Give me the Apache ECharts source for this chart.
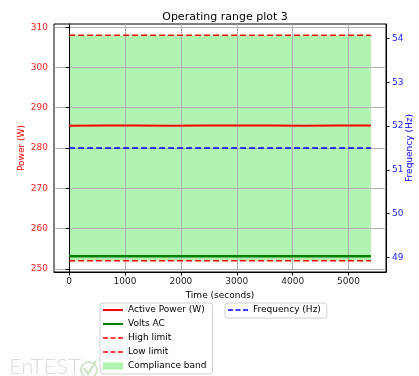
<!DOCTYPE html>
<html>
<head>
<meta charset="utf-8">
<script src="https://cdn.jsdelivr.net/npm/echarts@6/dist/echarts.min.js"></script>
<style>html,body{margin:0;padding:0;background:#fff;}#c{width:419px;height:376px;}</style>
</head>
<body>
<div id="c"></div>
<script>
// ---- data ----
const timeS = [0, 600, 1200, 1800, 2400, 3000, 3600, 4200, 4800, 5400];
const activePowerW = [285.5, 285.6, 285.6, 285.5, 285.6, 285.6, 285.6, 285.5, 285.6, 285.6];
const voltsAC = [253.1, 253.1, 253.1, 253.1, 253.1, 253.1, 253.1, 253.1, 253.1, 253.1];
const frequencyHz = [51.5, 51.5, 51.5, 51.5, 51.5, 51.5, 51.5, 51.5, 51.5, 51.5];
const highLimit = [308, 308];
const lowLimit = [252, 252];
const limitTime = [0, 5400];
const timeTicks = [0, 1000, 2000, 3000, 4000, 5000];
const powerTicks = [250, 260, 270, 280, 290, 300, 310];
const freqTicks = [49, 50, 51, 52, 53, 54];
const legendMain = ['Active Power (W)', 'Volts AC', 'High limit', 'Low limit', 'Compliance band'];
const legendFreq = ['Frequency (Hz)'];

const pairs = (xs, ys) => xs.map((x, i) => [x, ys[i]]);
const FONT = 'DejaVu Sans';
const BAND = 'rgb(177,243,177)';
const SOLID_ICON = 'path://M0,0h20v2h-20z';
const DASH_ICON = 'path://M0,0h5v1.6h-5z M7.5,0h5v1.6h-5z M15,0h5v1.6h-5z';
const PATCH_ICON = 'path://M0,0h20v7h-20z';
const legendIcon = {
  'Active Power (W)': {icon: SOLID_ICON, color: '#f00'},
  'Volts AC': {icon: SOLID_ICON, color: '#008000'},
  'High limit': {icon: DASH_ICON, color: '#f00'},
  'Low limit': {icon: DASH_ICON, color: '#f00'},
  'Compliance band': {icon: PATCH_ICON, color: BAND},
  'Frequency (Hz)': {icon: DASH_ICON, color: '#00f'}
};
const legendItems = names => names.map(n => ({
  name: n, icon: legendIcon[n].icon,
  itemStyle: {color: legendIcon[n].color, borderWidth: 0}
}));
const legendBase = {
  orient: 'vertical', top: 303,
  itemWidth: 20, itemHeight: 10, itemGap: 4, symbolKeepAspect: true,
  padding: [2, 6, 3, 3],
  borderColor: '#d0d0d0', borderWidth: 1, borderRadius: 3,
  backgroundColor: 'rgba(255,255,255,0.85)',
  textStyle: {fontFamily: FONT, fontSize: 9, color: '#000', lineHeight: 10}
};

const chart = echarts.init(document.getElementById('c'), null, {renderer: 'canvas'});
chart.setOption({
  animation: false,
  backgroundColor: '#fff',
  textStyle: {fontFamily: FONT},
  title: {
    text: 'Operating range plot 3', left: 220, top: 7, textAlign: 'center',
    textStyle: {fontFamily: FONT, fontSize: 11, fontWeight: 'normal', color: '#000'}
  },
  grid: {left: 54, right: 33, top: 24, bottom: 104, show: true, borderColor: '#000', borderWidth: 1,
         backgroundColor: 'transparent', containLabel: false, outerBoundsMode: 'none'},
  legend: [
    Object.assign({}, legendBase, {left: 100, data: legendItems(legendMain)}),
    Object.assign({}, legendBase, {left: 225, data: legendItems(legendFreq)})
  ],
  xAxis: {
    type: 'value', min: -270, max: 5670, z: 3,
    name: 'Time (seconds)', nameLocation: 'middle', nameGap: 19, nameMoveOverlap: false,
    nameTextStyle: {fontFamily: FONT, fontSize: 9, color: '#000'},
    axisLine: {show: true, onZero: false, lineStyle: {color: '#000', width: 1}},
    axisTick: {show: true, length: 3.5, customValues: timeTicks, lineStyle: {color: '#000'}},
    axisLabel: {customValues: timeTicks, formatter: v => String(v), fontFamily: FONT, fontSize: 9, color: '#222', margin: 5},
    splitLine: {show: true, lineStyle: {color: '#b0b0b0', width: 1}}
  },
  yAxis: [
    {
      type: 'value', min: 249.2, max: 310.8, z: 3, position: 'left',
      name: 'Power (W)', nameLocation: 'middle', nameGap: 28, nameRotate: 90, nameMoveOverlap: false,
      nameTextStyle: {fontFamily: FONT, fontSize: 9, color: '#f00'},
      axisLine: {show: true, lineStyle: {color: '#000', width: 1}},
      axisTick: {show: true, length: 3.5, customValues: powerTicks, lineStyle: {color: '#000'}},
      axisLabel: {customValues: powerTicks, formatter: v => String(v), fontFamily: FONT, fontSize: 9, color: '#f22', margin: 6},
      splitLine: {show: true, lineStyle: {color: '#b0b0b0', width: 1}}
    },
    {
      type: 'value', min: 48.67, max: 54.33, z: 3, position: 'right',
      name: 'Frequency (Hz)', nameLocation: 'middle', nameGap: 19, nameRotate: 90, nameMoveOverlap: false,
      nameTextStyle: {fontFamily: FONT, fontSize: 9, color: '#00f'},
      axisLine: {show: true, lineStyle: {color: '#000', width: 1}},
      axisTick: {show: true, length: 3.5, customValues: freqTicks, lineStyle: {color: '#000'}},
      axisLabel: {customValues: freqTicks, formatter: v => String(v), fontFamily: FONT, fontSize: 9, color: '#22f', margin: 6},
      splitLine: {show: false}
    }
  ],
  series: [
    {
      name: 'Compliance band', type: 'line', yAxisIndex: 0, z: 1,
      data: pairs(limitTime, highLimit), symbol: 'none',
      lineStyle: {width: 0, opacity: 0},
      areaStyle: {origin: lowLimit[0], color: BAND, opacity: 1},
      itemStyle: {color: BAND}
    },
    {
      name: 'High limit', type: 'line', yAxisIndex: 0, z: 5,
      data: pairs(limitTime, highLimit), symbol: 'none',
      lineStyle: {color: '#f00', width: 1.5, type: [6, 3]}, itemStyle: {color: '#f00'}
    },
    {
      name: 'Low limit', type: 'line', yAxisIndex: 0, z: 5,
      data: pairs(limitTime, lowLimit), symbol: 'none',
      lineStyle: {color: '#f00', width: 1.5, type: [6, 3]}, itemStyle: {color: '#f00'}
    },
    {
      name: 'Volts AC', type: 'line', yAxisIndex: 0, z: 6,
      data: pairs(timeS, voltsAC), symbol: 'none',
      lineStyle: {color: '#008000', width: 2.5}, itemStyle: {color: '#008000'}
    },
    {
      name: 'Active Power (W)', type: 'line', yAxisIndex: 0, z: 6,
      data: pairs(timeS, activePowerW), symbol: 'none',
      lineStyle: {color: '#f00', width: 2}, itemStyle: {color: '#f00'}
    },
    {
      name: 'Frequency (Hz)', type: 'line', yAxisIndex: 1, z: 6,
      data: pairs(timeS, frequencyHz), symbol: 'none',
      lineStyle: {color: '#00f', width: 1.5, type: [6, 3]}, itemStyle: {color: '#00f'}
    }
  ],
  graphic: [
    {type: 'text', left: 9, top: 356, z: -1, silent: true,
     style: {text: 'EnTEST', fontFamily: 'Lato', fontWeight: 300, fontSize: 22, fill: '#dcdcdc'}},
    {type: 'circle', shape: {cx: 89, cy: 370, r: 8}, z: -1, silent: true,
     style: {fill: 'none', stroke: '#d4e4cc', lineWidth: 2}},
    {type: 'polyline', shape: {points: [[84, 368], [88, 374], [96, 361]]}, z: -1, silent: true,
     style: {fill: 'none', stroke: '#d4e4cc', lineWidth: 2.5}}
  ]
});
</script>
</body>
</html>
